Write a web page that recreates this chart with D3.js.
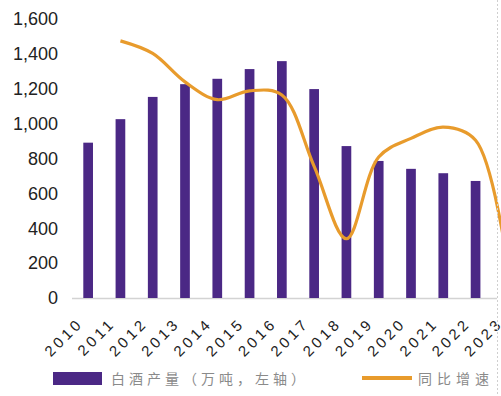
<!DOCTYPE html>
<html>
<head>
<meta charset="utf-8">
<script src="https://cdn.jsdelivr.net/npm/d3@7"></script>
<style>
  body { margin: 0; background: #fff; }
  svg { display: block; }
</style>
</head>
<body>
<div id="chart"></div>
<script>
// baijiu output (10k tonnes) and yoy growth (%)
const years = ["2010","2011","2012","2013","2014","2015","2016","2017","2018","2019","2020","2021","2022","2023"];
const output = [890.8, 1025.6, 1153.2, 1226.2, 1257.1, 1312.8, 1358.4, 1198.1, 871.2, 785.9, 740.7, 715.6, 671.2, 449.2];
const growthYears = ["2011","2012","2013","2014","2015","2016","2017","2018","2019","2020","2021","2022","2023"];
const growth = [15.1, 12.4, 6.3, 2.5, 4.4, 3.5, -11.8, -27.3, -9.8, -5.8, -3.4, -6.2, -33.1];
const leftTicks = [0, 200, 400, 600, 800, 1000, 1200, 1400, 1600];

const W = 501, H = 396;

const svg = d3.select("#chart").append("svg")
    .attr("width", W)
    .attr("height", H);

const x = d3.scaleBand()
    .domain(years)
    .range([72, 524])
    .paddingInner(0.7)
    .paddingOuter(0.35);

const y = d3.scaleLinear().domain([0, 1600]).range([298, 19]);
const yRight = d3.scaleLinear().domain([-40, 20]).range([298, 18]);

// left axis labels
svg.append("g")
    .selectAll("text")
    .data(leftTicks)
    .join("text")
    .attr("x", 58)
    .attr("y", d => y(d))
    .attr("dy", "0.35em")
    .attr("text-anchor", "end")
    .style("font-family", "Arial, 'Liberation Sans', sans-serif")
    .style("font-size", "18px")
    .style("fill", "#222")
    .text(d => d3.format(",")(d));

// baseline
svg.append("line")
    .attr("x1", 72).attr("x2", 497)
    .attr("y1", 298.5).attr("y2", 298.5)
    .attr("stroke", "#d3d3d3")
    .attr("stroke-width", 1.5);

// bars
svg.selectAll(".bar")
    .data(years.map((yr, i) => ({year: yr, v: output[i]})))
    .join("rect")
    .attr("class", "bar")
    .attr("x", d => x(d.year))
    .attr("width", x.bandwidth())
    .attr("y", d => y(d.v))
    .attr("height", d => y(0) - y(d.v))
    .attr("fill", "#4b2885");

// yoy line
const line = d3.line()
    .x(d => x(d.year) + x.bandwidth() / 2)
    .y(d => yRight(d.v))
    .curve(d3.curveCatmullRom.alpha(0.5));

svg.append("path")
    .datum(growthYears.map((yr, i) => ({year: yr, v: growth[i]})))
    .attr("fill", "none")
    .attr("stroke", "#e89b2c")
    .attr("stroke-width", 3.2)
    .attr("d", line);

// x labels, rotated
svg.append("g")
    .selectAll("text")
    .data(years)
    .join("text")
    .attr("transform", d => `translate(${x(d) + x.bandwidth() / 2 - 4},${324}) rotate(-45)`)
    .attr("text-anchor", "end")
    .style("font-family", "Arial, 'Liberation Sans', sans-serif")
    .style("font-size", "15px")
    .style("letter-spacing", "3.5px")
    .style("fill", "#222")
    .text(d => d);

// legend
svg.append("rect")
    .attr("x", 53).attr("y", 372)
    .attr("width", 49).attr("height", 13)
    .attr("fill", "#4b2885");

svg.append("text")
    .attr("x", 111).attr("y", 384)
    .style("font-family", "'Noto Sans CJK SC', sans-serif")
    .style("font-size", "14px")
    .style("letter-spacing", "4px")
    .style("fill", "#8a8a8a")
    .text("白酒产量（万吨，左轴）");

svg.append("line")
    .attr("x1", 362).attr("x2", 412)
    .attr("y1", 378).attr("y2", 378)
    .attr("stroke", "#e89b2c")
    .attr("stroke-width", 4);

svg.append("text")
    .attr("x", 418).attr("y", 384)
    .style("font-family", "'Noto Sans CJK SC', sans-serif")
    .style("font-size", "14px")
    .style("letter-spacing", "5px")
    .style("fill", "#8a8a8a")
    .text("同比增速");

// dotted right border of the clipped figure
svg.append("line")
    .attr("x1", 497.5).attr("x2", 497.5)
    .attr("y1", 0).attr("y2", H)
    .attr("stroke", "#cfcfcf")
    .attr("stroke-dasharray", "2,2");
</script>
</body>
</html>
